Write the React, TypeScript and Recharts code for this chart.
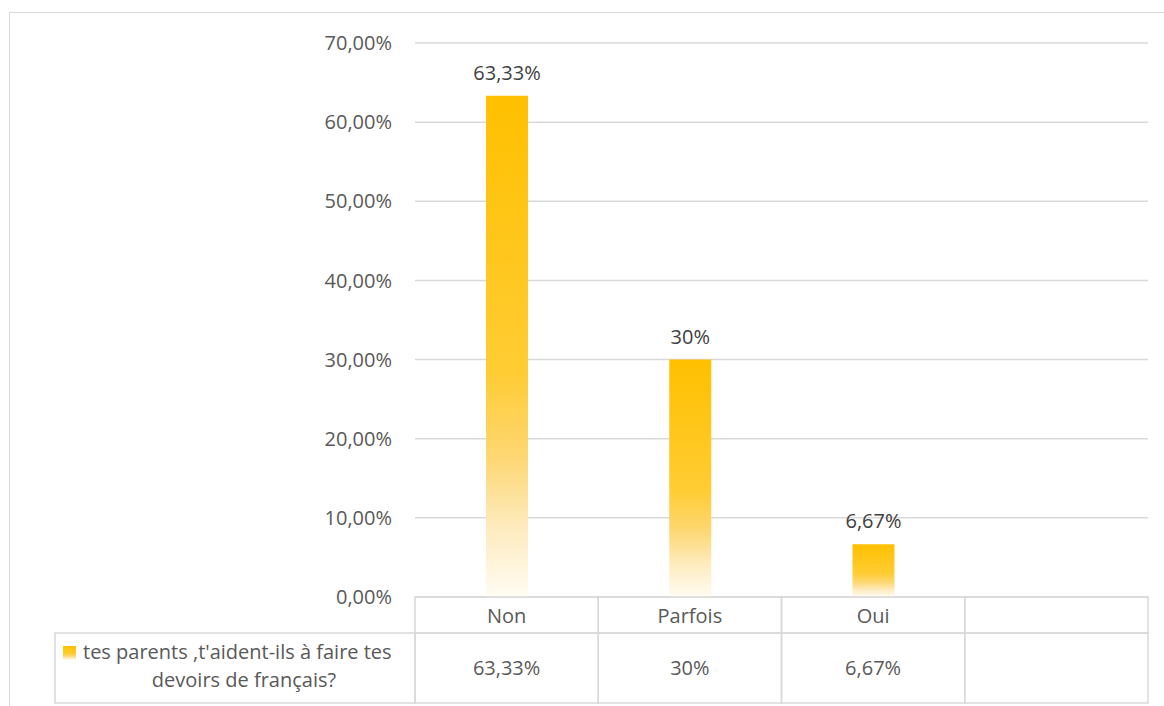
import React from "react";
import { BarChart, Bar, XAxis, YAxis, CartesianGrid, LabelList } from "recharts";

const categories = ["Non", "Parfois", "Oui", ""];
const values: (number | null)[] = [63.33, 30, 6.67, null];
const valueLabels = ["63,33%", "30%", "6,67%", ""];
const yTicks = [0, 10, 20, 30, 40, 50, 60, 70];
const seriesLines = ["tes parents ,t'aident-ils à faire tes", "devoirs de français?"];

const data = categories.map((cat, i) => ({ cat, value: values[i], label: valueLabels[i] }));

const W = 1164;
const H = 706;
const PLOT_LEFT = 415;
const PLOT_RIGHT = 1148;
const BAND = (PLOT_RIGHT - PLOT_LEFT) / categories.length;
const FONT = "'Open Sans', 'Noto Sans', sans-serif";
const FS = 20;
const GRID = "#d9d9d9";
const TEXT = "#595959";

const fmtPct = (v: number) => v.toFixed(2).replace(".", ",") + "%";

function TableTick(props: any) {
  const { x, y, index } = props;
  const left = x - BAND / 2;
  const headH = 36;
  const rowH = 70;
  return (
    <g>
      <rect x={left} y={y} width={BAND} height={headH} fill="none" stroke={GRID} strokeWidth={1.5} />
      <rect x={left} y={y + headH} width={BAND} height={rowH} fill="none" stroke={GRID} strokeWidth={1.5} />
      <text x={x} y={y + 26} textAnchor="middle" fontSize={FS} fill={TEXT} fontFamily={FONT}>
        {categories[index]}
      </text>
      <text x={x} y={y + headH + 42} textAnchor="middle" fontSize={FS} fill={TEXT} fontFamily={FONT}>
        {valueLabels[index]}
      </text>
      {index === 0 && (
        <g>
          <rect x={left - 360} y={y + headH} width={360} height={rowH} fill="none" stroke={GRID} strokeWidth={1.5} />
          <rect x={left - 352} y={y + headH + 13} width={13} height={14} fill="url(#barGrad)" />
          <text x={left - 332} y={y + headH + 26} textAnchor="start" fontSize={FS} fill={TEXT} fontFamily={FONT}>
            {seriesLines[0]}
          </text>
          <text x={left - 171} y={y + headH + 54} textAnchor="middle" fontSize={FS} fill={TEXT} fontFamily={FONT}>
            {seriesLines[1]}
          </text>
        </g>
      )}
    </g>
  );
}

function ValueLabel(props: any) {
  const { x, y, width, index } = props;
  if (values[index] == null) return null;
  return (
    <text x={x + width / 2} y={y - 16} textAnchor="middle" fontSize={FS} fill="#404040" fontFamily={FONT}>
      {valueLabels[index]}
    </text>
  );
}

export default function App() {
  return (
    <div style={{ position: "absolute", left: 0, top: 0, width: W, height: H, overflow: "hidden", background: "#fff" }}>
      <div
        style={{
          position: "absolute",
          left: 9,
          top: 12,
          width: 1300,
          height: 900,
          border: `1.5px solid ${GRID}`,
        }}
      />
      <div style={{ position: "absolute", left: 0, top: 0 }}>
        <BarChart width={W} height={H} data={data} margin={{ top: 43, right: W - PLOT_RIGHT, bottom: 0, left: 0 }}>
          <defs>
            <linearGradient id="barGrad" x1="0" y1="0" x2="0" y2="1">
              <stop offset="0" stopColor="#FFC000" />
              <stop offset="0.55" stopColor="#FFCC33" />
              <stop offset="0.72" stopColor="#FDD772" />
              <stop offset="0.86" stopColor="#FEEBBE" />
              <stop offset="1" stopColor="#FFFCF3" />
            </linearGradient>
          </defs>
          <CartesianGrid vertical={false} stroke={GRID} strokeWidth={1.5} />
          <YAxis
            width={PLOT_LEFT}
            domain={[0, 70]}
            ticks={yTicks}
            tickFormatter={fmtPct}
            axisLine={false}
            tickLine={false}
            tickSize={0}
            tickMargin={23}
            tick={{ fontSize: FS, fill: TEXT, fontFamily: FONT }}
          />
          <XAxis
            dataKey="cat"
            height={H - 597}
            axisLine={false}
            tickLine={false}
            tickSize={0}
            tickMargin={0}
            interval={0}
            tick={<TableTick />}
          />
          <Bar dataKey="value" barSize={42} fill="url(#barGrad)" isAnimationActive={false}>
            <LabelList dataKey="value" content={<ValueLabel />} />
          </Bar>
        </BarChart>
      </div>
    </div>
  );
}
